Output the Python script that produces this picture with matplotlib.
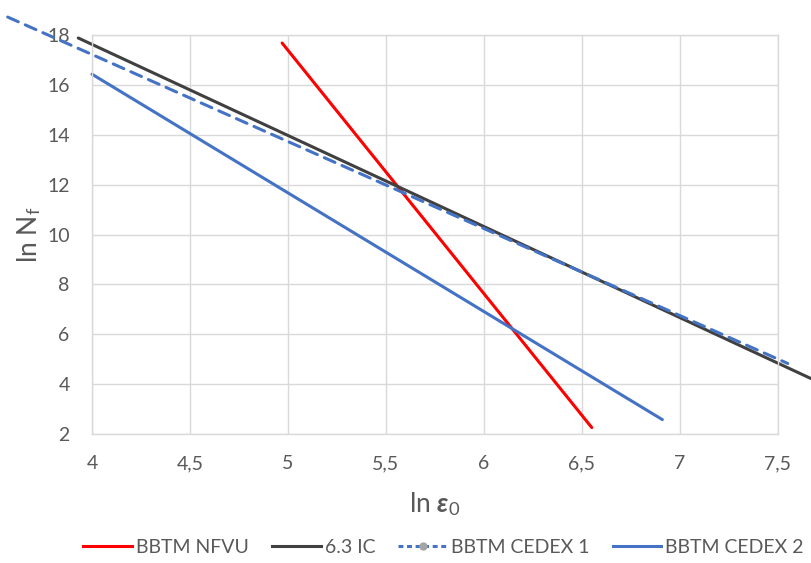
import matplotlib
matplotlib.use("Agg")
import matplotlib.pyplot as plt
from matplotlib.lines import Line2D

plt.rcParams["font.family"] = ["Lato", "DejaVu Sans"]
plt.rcParams["mathtext.fontset"] = "custom"
plt.rcParams["mathtext.rm"] = "Lato"
plt.rcParams["mathtext.it"] = "Lato:italic"
plt.rcParams["mathtext.bf"] = "Lato:bold"
plt.rcParams["mathtext.bfit"] = "Lato:bold:italic"

# end points of each straight line (ln eps0, ln Nf)
nfvu_x = [4.97, 6.55]
nfvu_y = [17.68, 2.26]
ic_x = [3.93, 7.67]
ic_y = [17.88, 4.22]
cedex1_x = [3.57, 7.55]
cedex1_y = [18.72, 4.83]
cedex2_x = [4.00, 6.91]
cedex2_y = [16.43, 2.58]

xticks = [4, 4.5, 5, 5.5, 6, 6.5, 7, 7.5]
xticklabels = ["4", "4,5", "5", "5,5", "6", "6,5", "7", "7,5"]
yticks = [2, 4, 6, 8, 10, 12, 14, 16, 18]

red = "#FF0000"
dark = "#404040"
blue = "#4472C4"
grid = "#D9D9D9"
txt = "#595959"

fig = plt.figure(figsize=(8.11, 5.63), dpi=100)
ax = fig.add_axes([0.1134, 0.229, 0.8459, 0.7088])

lw = 2.2
ax.plot(nfvu_x, nfvu_y, color=red, lw=lw, clip_on=False, solid_capstyle="round")
ax.plot(ic_x, ic_y, color=dark, lw=lw, clip_on=False, solid_capstyle="round")
ax.plot(cedex1_x, cedex1_y, color=blue, lw=lw, ls=(0, (3.8, 2.5)), clip_on=False,
        dash_capstyle="round")
ax.plot(cedex2_x, cedex2_y, color=blue, lw=lw, clip_on=False, solid_capstyle="round")

ax.set_xlim(4, 7.5)
ax.set_ylim(2, 18)
ax.set_xticks(xticks)
ax.set_xticklabels(xticklabels)
ax.set_yticks(yticks)
ax.grid(True, color=grid, lw=1)
ax.set_axisbelow(True)
for s in ax.spines.values():
    s.set_color(grid)
    s.set_linewidth(1)
ax.tick_params(length=0, labelsize=14, labelcolor=txt)
ax.tick_params(axis="y", pad=16)
ax.tick_params(axis="x", pad=15)

ax.set_xlabel(r"ln $\mathbfit{\varepsilon}_{\mathrm{0}}$", fontsize=19, color=txt, labelpad=13)
ax.set_ylabel(r"ln N$_{\mathrm{f}}$", fontsize=19, color=txt, labelpad=3)

handles = [
    Line2D([], [], color=red, lw=lw),
    Line2D([], [], color=dark, lw=lw),
    Line2D([], [], color=blue, lw=lw, ls=(0, (1.6, 1.2)), marker="o",
           markersize=5, markerfacecolor="#A5A5A5", markeredgecolor="#A5A5A5"),
    Line2D([], [], color=blue, lw=lw),
]
labels = ["BBTM NFVU", "6.3 IC", "BBTM CEDEX 1", "BBTM CEDEX 2"]
leg = fig.legend(handles, labels, loc="lower center", bbox_to_anchor=(0.547, -0.018),
                 ncol=4, frameon=False, fontsize=14, handlelength=2.5,
                 handletextpad=0.2, columnspacing=1.2)
for t in leg.get_texts():
    t.set_color(txt)

fig.savefig("out.png", dpi=100)
